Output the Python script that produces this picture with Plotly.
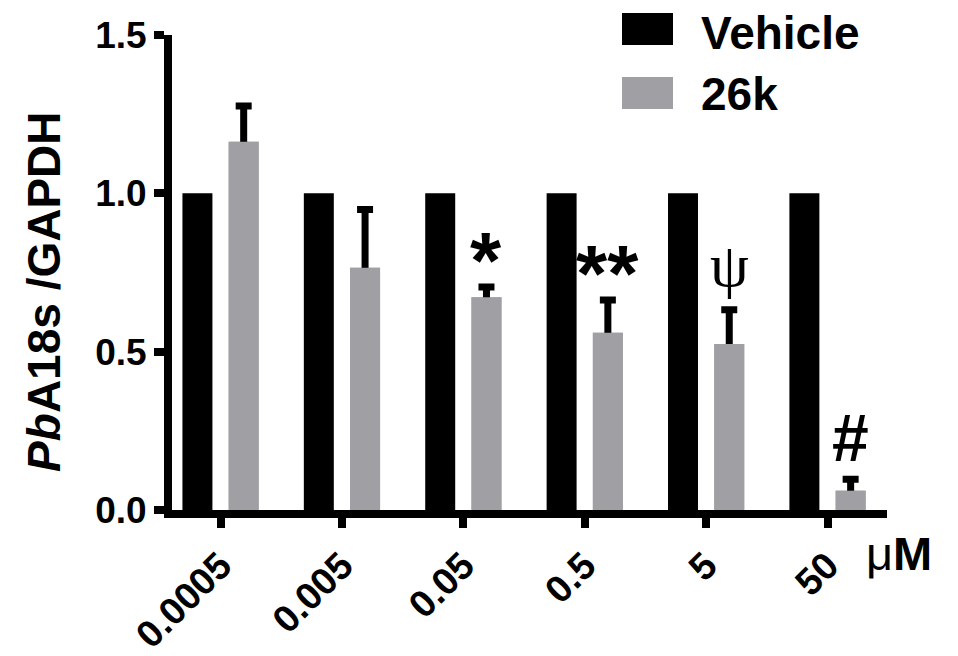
import plotly.graph_objects as go

categories = ["0.0005", "0.005", "0.05", "0.5", "5", "50"]
vehicle = [1.0, 1.0, 1.0, 1.0, 1.0, 1.0]
k26 = [1.163, 0.765, 0.672, 0.560, 0.524, 0.061]
k26_err = [0.113, 0.184, 0.032, 0.103, 0.108, 0.036]
marks = ["", "", "*", "**", "ψ", "#"]
y_ticks = [0.0, 0.5, 1.0, 1.5]
y_ticklabels = ["0.0", "0.5", "1.0", "1.5"]

BLACK = "#000000"
GRAY = "#a09fa4"
FONT = "Arial, Liberation Sans, sans-serif"

# figure geometry (page is offset by the 8px body margin)
W, H = 950, 648
ML, MR, MT, MB = 164, 71, 27, 146
PW, PH = W - ML - MR, H - MT - MB
OFF = 8


def px(xp):
    return (xp - OFF - ML) / PW


def py(yp):
    return (H - (yp - OFF) - MB) / PH


bar_w = 0.247
off_v = -0.314
off_k = 0.067

fig = go.Figure()
fig.add_trace(go.Bar(
    name="Vehicle", x=categories, y=vehicle,
    width=bar_w, offset=off_v,
    marker=dict(color=BLACK, line=dict(width=0)),
    showlegend=False,
))
# 26k bars carrying the (upper) error bars; stem/shoe inside the bar are
# hidden by the same bars redrawn on top.
fig.add_trace(go.Bar(
    name="26k", x=categories, y=k26,
    width=bar_w, offset=off_k,
    marker=dict(color=GRAY, line=dict(width=0)),
    error_y=dict(type="data", array=k26_err, arrayminus=k26,
                 symmetric=False, color=BLACK, thickness=7, width=8),
    showlegend=False,
))
fig.add_trace(go.Bar(
    name="26k", x=categories, y=k26,
    width=bar_w, offset=off_k,
    marker=dict(color=GRAY, line=dict(width=0)),
    showlegend=False, hoverinfo="skip",
))

annotations = []
cat_index = {c: i for i, c in enumerate(categories)}
for c, v, e, m in zip(categories, k26, k26_err, marks):
    if not m:
        continue
    if m == "ψ":
        font = dict(family="Liberation Serif, Times New Roman, serif", size=62, color=BLACK)
        ys = 9
    elif m == "#":
        font = dict(family=FONT, size=66, color=BLACK, weight="bold")
        ys = 2
    else:
        font = dict(family=FONT, size=80, color=BLACK, weight="bold")
        ys = -20
    annotations.append(dict(
        x=cat_index[c] + off_k + bar_w / 2, y=v + e, xref="x", yref="y",
        text=m, showarrow=False, xanchor="center", yanchor="bottom",
        yshift=ys, font=font,
    ))

# legend drawn as boxes + text
legend_items = [("Vehicle", BLACK, 33), ("26k", GRAY, 94)]
shapes = []
for i, (name, col, text_y) in enumerate(legend_items):
    top = 13 + i * 64
    bot = 45 + i * 64
    shapes.append(dict(type="rect", xref="paper", yref="paper",
                       x0=px(622), x1=px(673), y0=py(bot), y1=py(top),
                       fillcolor=col, line=dict(width=0), layer="above"))
    annotations.append(dict(
        x=px(699), y=py(text_y),
        xref="paper", yref="paper", text=name, showarrow=False,
        xanchor="left", yanchor="middle",
        font=dict(family=FONT, size=46, color=BLACK, weight="bold"),
    ))

annotations.append(dict(
    x=px(864), y=py(553), xref="paper", yref="paper",
    text="μ<b>M</b>", showarrow=False, xanchor="left", yanchor="middle",
    font=dict(family=FONT, size=47, color=BLACK),
))

fig.update_layout(
    width=W, height=H,
    margin=dict(l=ML, r=MR, t=MT, b=MB, autoexpand=False),
    plot_bgcolor="white", paper_bgcolor="white",
    barmode="overlay",
    showlegend=False,
    shapes=shapes,
    annotations=annotations,
    xaxis=dict(
        type="category", range=[-0.4, 5.49], automargin=False,
        showline=True, linewidth=8, linecolor=BLACK,
        ticks="outside", ticklen=10, tickwidth=8, tickcolor=BLACK,
        tickangle=-45, showgrid=False, zeroline=False,
        tickfont=dict(family=FONT, size=38, color=BLACK, weight="bold"),
    ),
    yaxis=dict(
        range=[0, 1.5], tickvals=y_ticks, ticktext=y_ticklabels, automargin=False,
        showline=True, linewidth=8, linecolor=BLACK,
        ticks="outside", ticklen=10, tickwidth=8, tickcolor=BLACK,
        showgrid=False, zeroline=False,
        tickfont=dict(family=FONT, size=37, color=BLACK, weight="bold"),
        title=dict(text="<i>Pb</i>A18s /GAPDH\u00a0\u00a0\u00a0\u200b", standoff=23,
                   font=dict(family=FONT, size=46, color=BLACK, weight="bold")),
    ),
)

fig.write_html("out.html")
